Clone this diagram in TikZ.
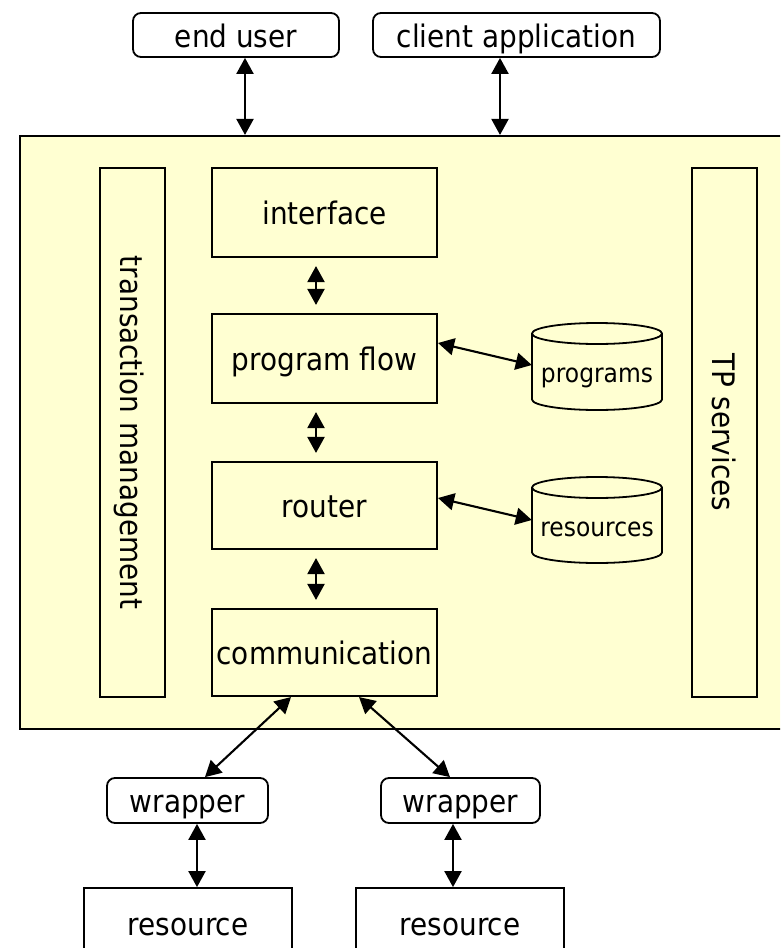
\documentclass[tikz,border=0pt]{standalone}
\usepackage{fontspec}
\setmainfont{DejaVu Sans}[FakeStretch=0.9]
\usetikzlibrary{arrows.meta,calc}
\definecolor{bgy}{RGB}{255,255,210}
\newcommand\mycyl[3]{%
  \draw[line width=1.8pt, fill=bgy] (#1-65,#2) -- (#1-65,#3)
    arc[start angle=180,end angle=0,x radius=65,y radius=10.5]
    -- (#1+65,#2) arc[start angle=0,end angle=-180,x radius=65,y radius=10.5] -- cycle;
  \draw[line width=1.8pt] (#1-65,#2) arc[start angle=180,end angle=0,x radius=65,y radius=10.5];}
\begin{document}
\begin{tikzpicture}[x=1pt,y=-1pt,
  lbl/.style={font=\fontsize{31}{36}\selectfont, text height=31pt, text depth=6.4pt},
  box/.style={draw, line width=2.1pt, fill=bgy, inner sep=0pt, lbl},
  rbox/.style={draw, line width=1.8pt, fill=white, rounded corners=8pt, inner sep=0pt, lbl},
  wbox/.style={draw, line width=1.8pt, fill=white, inner sep=0pt, lbl},
  arr/.style={line width=2.1pt, {Triangle[length=16pt,width=17pt]}-{Triangle[length=16pt,width=17pt]}},
  cyltext/.style={font=\fontsize{26}{30}\selectfont, anchor=base, inner sep=0pt}
]
\useasboundingbox (0,0) rectangle (780,948);
\clip (0,0) rectangle (780,948);

% top boxes
\node[rbox, minimum width=206pt, minimum height=44pt] (eu) at (236,35) {end user};
\node[rbox, minimum width=287pt, minimum height=44pt] (ca) at (516.5,35) {client application};

% outer TP monitor
\node[box, minimum width=780pt, minimum height=593pt] (tp) at (410,432.5) {};

% side bars
\node[box, rotate=-90, minimum width=529pt, minimum height=65pt] (tm) at (132.5,432.5) {transaction management};
\node[box, rotate=-90, minimum width=529pt, minimum height=65pt] (tps) at (724.5,432.5) {TP services};

% central stack
\node[box, minimum width=225pt, minimum height=89pt] (intf) at (324.5,212.5) {interface};
\node[box, minimum width=225pt, minimum height=89pt] (pf) at (324.5,358.5) {program flow};
\node[box, minimum width=225pt, minimum height=87pt] (rt) at (324.5,505.5) {router};
\node[box, minimum width=225pt, minimum height=87pt] (comm) at (324.5,652.5) {communication};

% cylinders
\mycyl{597}{333.5}{399.5}
\node[minimum width=130pt, minimum height=87pt, inner sep=0pt] (prog) at (597,366.5) {};
\node[cyltext] (progt) at (597,382) {programs};
\mycyl{597}{487.5}{552.5}
\node[minimum width=130pt, minimum height=86pt, inner sep=0pt] (res) at (597,520) {};
\node[cyltext] (rest) at (597,536) {resources};

% wrappers and resources
\node[rbox, minimum width=161pt, minimum height=45pt] (wl) at (187.5,800.5) {wrapper};
\node[rbox, minimum width=159pt, minimum height=45pt] (wr) at (460.5,800.5) {wrapper};
\node[wbox, minimum width=208pt, minimum height=70pt] (rl) at (188,923) {resource};
\node[wbox, minimum width=208pt, minimum height=70pt] (rr) at (460,923) {resource};

% connectors
\coordinate (a1) at ([xshift=9pt]eu.south);
\coordinate (a2) at ([xshift=-16.5pt]ca.south);
\draw[arr] (a1) -- (a1 |- tp.north);
\draw[arr] (a2) -- (a2 |- tp.north);

\draw[arr, shorten <=8pt, shorten >=8pt] ([xshift=-8.5pt]intf.south) -- ([xshift=-8.5pt]pf.north);
\draw[arr, shorten <=8pt, shorten >=8pt] ([xshift=-8.5pt]pf.south) -- ([xshift=-8.5pt]rt.north);
\draw[arr, shorten <=8pt, shorten >=8pt] ([xshift=-8.5pt]rt.south) -- ([xshift=-8.5pt]comm.north);

\draw[arr] ([yshift=15.5pt]pf.east) -- ([yshift=1.5pt]prog.west);
\draw[arr] ([yshift=7.5pt]rt.east) -- (res.west);

\draw[arr] ([xshift=-33.5pt]comm.south) -- ([xshift=17.5pt]wl.north);
\draw[arr] ([xshift=34.5pt]comm.south) -- ([xshift=-10.5pt]wr.north);

\draw[arr] ([xshift=9.5pt]wl.south) -- ([xshift=9pt]rl.north);
\draw[arr] ([xshift=-7.5pt]wr.south) -- ([xshift=-7pt]rr.north);
\end{tikzpicture}
\end{document}
